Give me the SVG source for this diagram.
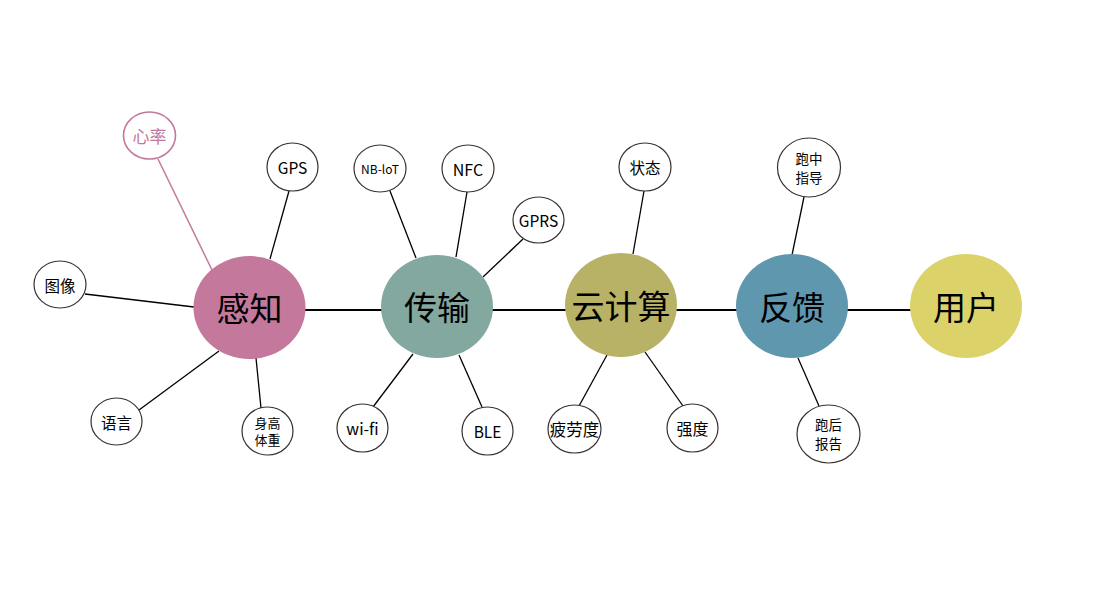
<svg xmlns="http://www.w3.org/2000/svg" width="1099" height="610" viewBox="0 0 1099 610">
<style>
.bg{fill:#ffffff}
.ln{stroke:#000;stroke-width:1.3;fill:none}
.main{stroke:#000;stroke-width:2;fill:none}
.pk{stroke:#c4789b;stroke-width:1.5;fill:none}
.sm{fill:#fff;stroke:#3a3030;stroke-width:1.2}
.smp{fill:#fff;stroke:#c4789b;stroke-width:1.6}
.big{font-family:"Noto Sans CJK SC","Microsoft YaHei",sans-serif;font-size:33px;fill:#000;text-anchor:middle;dominant-baseline:central}
.t{font-family:"Noto Sans CJK SC","Microsoft YaHei",sans-serif;font-size:15.5px;fill:#000;text-anchor:middle;dominant-baseline:central}
.t2{font-family:"Noto Sans CJK SC","Microsoft YaHei",sans-serif;font-size:13px;fill:#000;text-anchor:middle}
.t3{font-family:"Noto Sans CJK SC","Microsoft YaHei",sans-serif;font-size:13.5px;fill:#000;text-anchor:middle}
.tp{font-family:"Noto Sans CJK SC","Microsoft YaHei",sans-serif;font-size:17px;fill:#c4789b;text-anchor:middle;dominant-baseline:central}
</style>
<rect class="bg" x="0" y="0" width="1099" height="610"/>
<g id="connectors">
<line class="main" x1="300" y1="310" x2="915" y2="310"/>
<line class="pk" x1="158" y1="159" x2="212" y2="270"/>
<line class="ln" x1="289" y1="191" x2="270" y2="259"/>
<line class="ln" x1="85" y1="294" x2="194" y2="307"/>
<line class="ln" x1="139" y1="410" x2="219" y2="351"/>
<line class="ln" x1="261" y1="408" x2="256" y2="358"/>
<line class="ln" x1="390" y1="191" x2="416" y2="258"/>
<line class="ln" x1="467" y1="192" x2="456" y2="257"/>
<line class="ln" x1="523" y1="239" x2="483" y2="277"/>
<line class="ln" x1="373" y1="407" x2="413" y2="354"/>
<line class="ln" x1="482" y1="407" x2="459" y2="355"/>
<line class="ln" x1="644" y1="191" x2="633" y2="254"/>
<line class="ln" x1="579" y1="406" x2="607" y2="355"/>
<line class="ln" x1="683" y1="406" x2="645" y2="352"/>
<line class="ln" x1="804" y1="197" x2="792" y2="255"/>
<line class="ln" x1="819" y1="406" x2="798" y2="358"/>
</g>
<g id="n-ganzhi"><ellipse cx="249.5" cy="307.5" rx="56" ry="51.5" fill="#c4789b"/><text class="big" x="249.5" y="307">感知</text></g>
<g id="n-chuanshu"><ellipse cx="437" cy="306.5" rx="56" ry="51.5" fill="#82a8a0"/><text class="big" x="437" y="306">传输</text></g>
<g id="n-yunjisuan"><ellipse cx="621" cy="305" rx="56" ry="52" fill="#b8b266"/><text class="big" x="621" y="305">云计算</text></g>
<g id="n-fankui"><ellipse cx="792" cy="306" rx="56" ry="52" fill="#5f97ae"/><text class="big" x="792" y="306">反馈</text></g>
<g id="n-yonghu"><ellipse cx="966" cy="306" rx="56" ry="52" fill="#dcd26a"/><text class="big" x="966" y="306">用户</text></g>
<g id="n-xinlv"><ellipse class="smp" cx="149.5" cy="135.5" rx="26" ry="23.5"/><text class="tp" x="149.5" y="135.5">心率</text></g>
<g id="n-gps"><ellipse class="sm" cx="292.5" cy="167" rx="25.5" ry="24"/><text class="t" x="292.5" y="167">GPS</text></g>
<g id="n-tuxiang"><ellipse class="sm" cx="60" cy="284.5" rx="26" ry="23.5"/><text class="t" x="60" y="284.5">图像</text></g>
<g id="n-yuyan"><ellipse class="sm" cx="116.5" cy="421.5" rx="25.5" ry="23.5"/><text class="t" x="116.5" y="421.5">语言</text></g>
<g id="n-shengao"><ellipse class="sm" cx="267.5" cy="431" rx="25.5" ry="24"/><text class="t2" x="267.5" y="427.5">身高</text><text class="t2" x="267.5" y="444.5">体重</text></g>
<g id="n-nbiot"><ellipse class="sm" cx="380" cy="168.5" rx="26" ry="23.5"/><text class="t" x="380" y="168.5" style="font-size:12px">NB-loT</text></g>
<g id="n-nfc"><ellipse class="sm" cx="468" cy="168.5" rx="26" ry="23.5"/><text class="t" x="468" y="169" style="font-size:16px">NFC</text></g>
<g id="n-gprs"><ellipse class="sm" cx="538.5" cy="220" rx="25.5" ry="23"/><text class="t" x="538.5" y="220">GPRS</text></g>
<g id="n-wifi"><ellipse class="sm" cx="362.5" cy="428" rx="25.5" ry="24"/><text class="t" x="362.5" y="428" style="font-size:16px">wi-fi</text></g>
<g id="n-ble"><ellipse class="sm" cx="487.5" cy="431" rx="25.5" ry="24"/><text class="t" x="487.5" y="431">BLE</text></g>
<g id="n-zhuangtai"><ellipse class="sm" cx="645" cy="167" rx="26" ry="24"/><text class="t" x="645" y="167">状态</text></g>
<g id="n-pilaodu"><ellipse class="sm" cx="574.5" cy="429" rx="26.5" ry="24"/><text class="t" x="574.5" y="429" style="font-size:16.5px">疲劳度</text></g>
<g id="n-qiangdu"><ellipse class="sm" cx="692.5" cy="428" rx="25.5" ry="24"/><text class="t" x="692.5" y="428" style="font-size:16px">强度</text></g>
<g id="n-paozhong"><ellipse class="sm" cx="809" cy="167.5" rx="31.5" ry="29.5"/><text class="t3" x="809" y="164">跑中</text><text class="t3" x="809" y="183">指导</text></g>
<g id="n-paohou"><ellipse class="sm" cx="828.5" cy="434" rx="31.5" ry="29"/><text class="t3" x="828.5" y="430">跑后</text><text class="t3" x="828.5" y="449">报告</text></g>
</svg>
